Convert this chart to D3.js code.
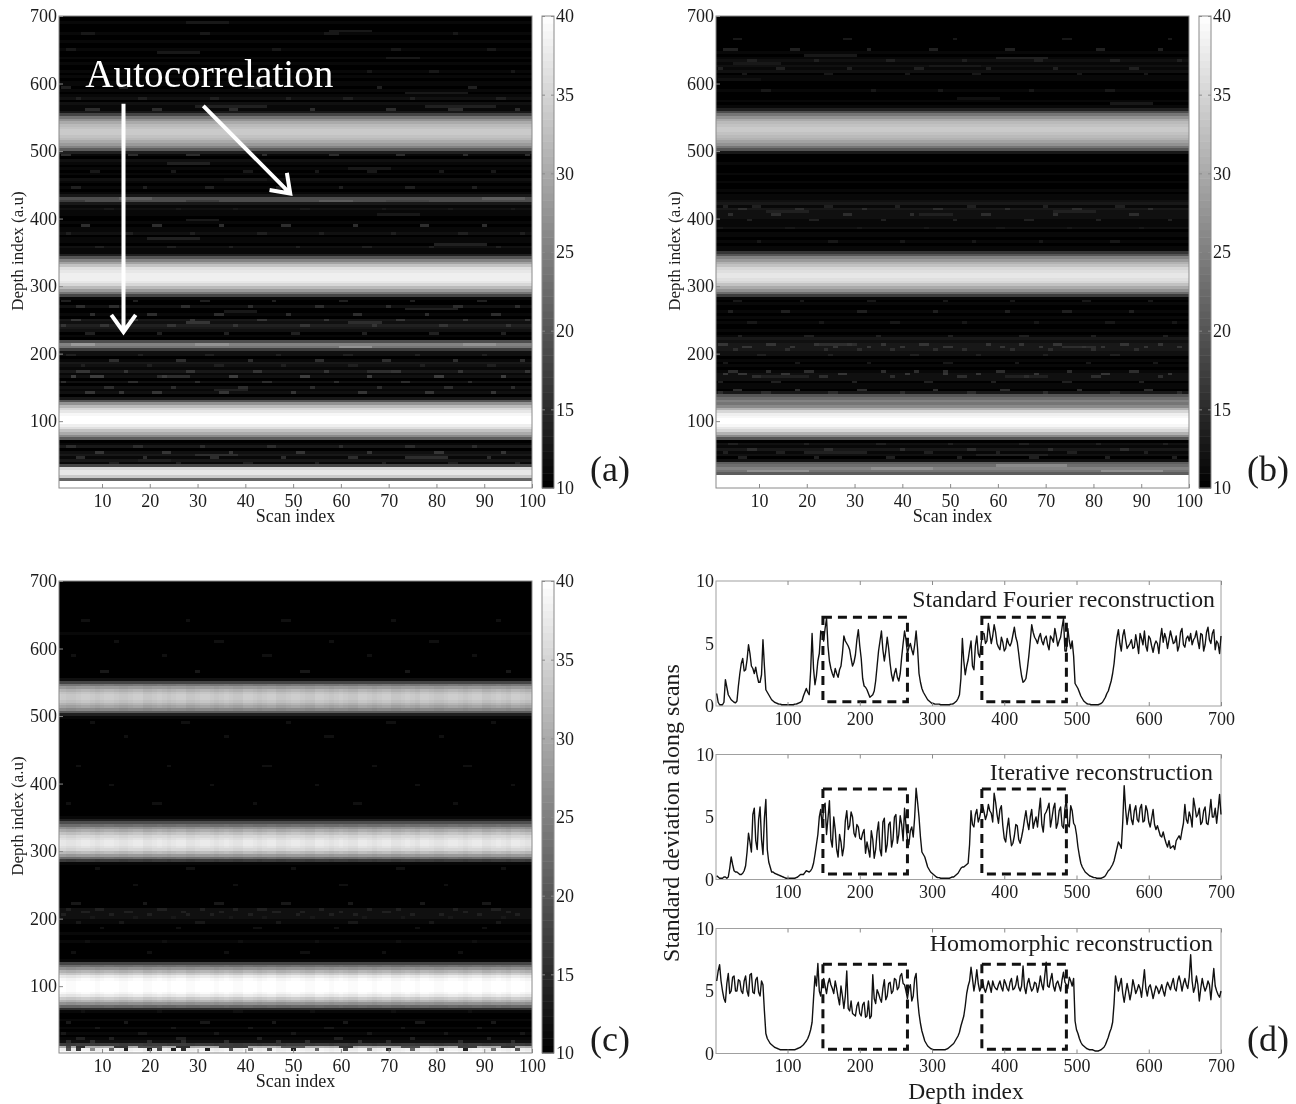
<!DOCTYPE html>
<html>
<head>
<meta charset="utf-8">
<script src="https://cdn.jsdelivr.net/npm/d3@7"></script>
<style>
	html, body { margin: 0; background: #fff; }
	svg { display: block; filter: blur(0.45px); }
	text { font-family: "Liberation Serif", serif; fill: #1c1c1c; }
	.axis path { display: none; }
	.axis line { stroke: #8a8a8a; }
	.axis text { font-size: 18px; font-family: "Liberation Serif", serif; fill: #1c1c1c; }
</style>
</head>
<body>
<svg width="1296" height="1104"></svg>
<script>
var scanTicks = [10, 20, 30, 40, 50, 60, 70, 80, 90, 100];
var depthTicks = [100, 200, 300, 400, 500, 600, 700];
var barTicks = [10, 15, 20, 25, 30, 35, 40];
var stdTicks = [0, 5, 10];

// depth rows, 4 units apart, starting at depth 2 (25 values a line)
var profileA = [
	40,40,40,22,34,37,37,35,18,11,13,11,13,12,10,13,11,10,21,26,30,33,36,38,40,
	40,40,39,37,35,32,27,20,13,10,12,11,12,10,12,10,12,11,13,11,12,13,11,10,12,
	12,17,24,25,19,10,11,10,12,13,14,12,13,10,11,10,10,12,10,10,11,18,24,28,32,
	35,37,38,38,38,37,36,33,29,25,20,14,11,11,12,10,11,11,10,12,11,11,10,11,10,
	10,11,11,12,11,13,19,19,13,11,10,11,10,11,12,10,11,10,11,10,11,12,10,11,14,
	21,25,28,30,32,33,34,34,33,32,30,27,24,18,13,11,11,12,10,12,11,10,11,10,11,
	11,10,11,10,11,10,10,11,10,11,10,10,11,10,10,11,10,10,11,10,10,10,11,10,10
];
var profileB = [
	40,40,40,40,40,21,24,25,23,21,12,10,12,11,13,11,12,10,20,26,31,35,37,39,40,
	40,39,38,35,31,26,24,25,23,20,13,10,11,11,10,12,12,12,11,10,11,10,11,10,12,
	12,13,13,13,12,13,11,10,11,10,10,11,10,11,10,11,10,10,11,10,11,17,23,27,30,
	33,35,36,37,37,36,35,33,31,28,25,20,16,11,11,10,11,10,11,11,10,12,11,11,11,
	12,12,12,13,11,13,12,11,11,10,11,10,10,11,10,10,11,10,10,10,11,10,10,10,13,
	20,24,27,29,31,32,33,34,34,33,32,30,27,24,19,14,11,10,11,10,10,10,11,10,10,
	10,11,11,10,12,11,12,11,12,11,10,11,10,10,10,10,10,10,10,10,10,10,10,10,10
];
var profileC = [
	39,38,30,17,12,11,10,11,10,11,10,10,11,10,10,11,15,22,27,31,34,37,39,40,40,
	40,40,39,37,34,31,27,23,18,11,10,10,10,10,10,10,11,10,10,11,10,10,10,11,11,
	12,12,12,12,10,10,10,10,10,10,10,10,10,10,10,10,10,10,10,10,11,17,23,28,32,
	35,36,37,37,36,35,33,30,27,23,19,14,11,10,10,10,10,10,10,10,10,10,10,10,10,
	10,10,10,10,10,10,10,10,10,10,10,10,10,10,10,10,10,10,10,10,10,10,10,10,11,
	14,21,26,29,31,33,34,34,33,31,28,24,18,12,10,10,10,10,10,10,10,10,10,10,10,
	10,10,10,10,10,11,10,10,10,10,10,10,10,10,10,10,10,10,10,10,10,10,10,10,10
];

var streaksA = [
	[28,36,688,13],[58,66,676,13],[22,30,645,13],[70,76,636,13],[74,86,584,13],[30,44,566,14],[78,92,566,14],
	[24,32,482,14],[62,70,474,13],[36,44,458,13],[28,34,396,13],[68,76,404,13],[20,30,370,14],[80,90,362,14],
	[36,42,262,13],[74,84,266,14],[28,32,246,16],[62,68,246,15],[22,28,166,15],[66,72,172,15],[34,40,146,14],
	[30,38,50,15],[74,82,46,15],[18,24,42,14],[1,6,426,17],[14,20,430,21],[28,34,426,17],[56,62,426,21],
	[70,78,426,18],[90,98,430,21],[4,8,214,28],[30,36,214,27],[60,66,210,27],[86,92,214,27]
];
var streaksB = [
	[20,30,640,13],[60,70,636,14],[5,14,628,13],[46,56,626,13],[2,10,606,12],[52,60,578,12],[84,92,570,13],
	[12,20,410,14],[44,50,406,14],[72,80,410,14],[23,30,214,15],[74,80,208,15],[10,20,164,14],[62,70,166,14],
	[20,32,52,14],[56,70,48,14],[8,20,26,27],[34,46,30,27],[60,74,34,26],[82,94,26,27]
];
var streaksC = [
	[3,3,6,20],[5,5,6,16],[8,8,6,26],[12,12,6,22],[15,15,6,14],[20,20,6,13],[22,22,6,18],[25,25,6,14],
	[27,27,6,15],[32,32,6,14],[37,37,6,20],[41,41,6,24],[45,45,6,20],[50,50,6,14],[55,55,6,22],[61,61,6,18],
	[66,66,6,24],[70,70,6,15],[75,75,6,22],[81,81,6,18],[86,86,6,14],[92,92,6,24],[97,97,6,20],
	[3,3,10,18],[5,6,10,15],[13,15,10,16],[18,22,10,19],[26,28,10,15],[35,40,10,17],[48,52,10,20],[60,62,10,16],
	[73,76,10,19],[85,88,10,17],[94,96,10,16]
];

// single bright cells: depth, level, scans
var speckleA = [
	[674,13,[6,7,8,31,32,57,58,59,84]], [650,13,[3,4,46,47,71,72,91,92]], [618,13,[9,10,27,52,53,66,79,80,96]],
	[594,14,[2,3,14,15,41,42,43,68,87,88]], [578,14,[5,18,19,33,34,49,61,62,75,93,94]],
	[562,15,[7,8,9,21,22,37,38,54,70,71,83,84,85,97]], [494,15,[2,3,16,17,28,29,30,44,58,59,72,73,86,99]],
	[470,13,[8,9,25,40,41,55,66,67,81,92]], [446,14,[4,5,19,32,33,47,60,74,75,88]], [414,13,[11,12,26,38,52,53,69,83,96]],
	[390,15,[6,7,21,22,35,48,49,63,77,78,90]], [378,14,[3,15,16,29,43,44,56,71,85,86,98]],
	[358,14,[9,10,24,25,37,51,65,66,79,93]], [278,14,[2,3,17,31,32,46,60,61,75,89,90]],
	[270,15,[5,6,12,13,27,28,41,55,56,70,84,85,97]], [258,15,[8,20,21,34,35,49,63,64,78,92,93]],
	[250,16,[4,5,16,17,29,43,44,57,72,73,86,99]], [242,16,[2,10,11,24,25,38,52,53,67,81,82,95]],
	[230,14,[7,8,22,36,50,51,65,79,80,94]], [198,14,[3,4,18,32,33,47,61,62,76,90]],
	[190,15,[12,13,26,27,41,55,56,69,70,84,98]], [182,14,[6,20,34,35,48,62,63,77,91,92]],
	[174,16,[5,6,7,15,28,29,42,43,57,71,72,85,99]], [166,17,[4,8,9,10,23,37,38,52,53,66,80,81,94]],
	[158,15,[2,16,17,30,44,45,59,73,74,87]], [150,15,[11,12,25,39,40,54,68,82,83,96]],
	[142,16,[7,8,14,21,22,35,36,50,64,65,78,79,92]], [62,15,[3,4,17,18,31,45,46,60,74,75,88]],
	[54,16,[9,10,23,24,37,51,52,66,80,81,94]], [46,15,[5,6,19,33,34,48,62,63,77,91]], [38,14,[12,13,26,40,41,55,69,83,84,97]]
];
var speckleB = [
	[664,13,[5,6,28,29,51,74,75,96]], [648,14,[3,4,5,17,18,33,46,47,62,63,81,82,94]],
	[632,14,[8,9,22,37,38,53,68,69,84,85,98]], [620,14,[2,14,15,29,43,44,58,72,88,89]],
	[612,13,[7,24,25,41,55,56,77,91]], [590,13,[11,12,34,48,67,83,84]],
	[418,14,[3,9,10,24,25,39,54,55,70,85,86]], [414,15,[6,7,18,19,32,47,48,62,76,77,92]],
	[406,15,[4,13,14,28,29,42,57,58,72,88,89]], [398,14,[8,21,22,36,51,66,67,81,96]],
	[386,13,[2,16,17,31,45,60,61,75,90]], [366,13,[10,25,26,40,55,69,84,85]],
	[278,13,[5,6,19,33,34,49,63,78,79,92]], [262,14,[4,15,16,31,32,47,62,74,75,88]],
	[246,13,[8,9,23,38,39,53,68,83,84,97]], [226,14,[6,20,21,35,50,65,66,80,95]],
	[214,16,[2,3,12,13,22,29,36,44,45,58,65,72,73,86,87,94]], [210,16,[7,8,17,26,33,40,49,50,61,69,78,82,91,98]],
	[206,15,[5,16,24,31,38,47,53,63,71,80,89]], [198,14,[10,11,25,42,43,56,70,84,85]], [186,13,[3,18,33,49,50,64,79,93]],
	[174,15,[4,5,12,20,21,36,43,49,60,61,75,88,89]], [170,16,[3,6,7,15,16,27,28,41,49,56,68,82,83,96]],
	[164,15,[9,10,23,24,38,52,53,66,80,81,94]], [158,14,[2,13,14,30,45,46,59,74,75,90]],
	[146,15,[5,6,18,31,32,47,61,62,77,91,92]], [142,15,[2,11,12,25,26,40,54,55,70,84,85,98]],
	[66,14,[4,5,20,35,36,50,65,66,81,95]], [58,15,[8,9,24,25,40,54,55,71,86,87]],
	[54,14,[3,14,15,30,45,46,60,75,76,91]], [46,14,[6,7,22,37,38,52,67,68,83,97]]
];
var speckleC = [
	[642,12,[6,7,28,48,49,71,93]], [610,12,[13,34,35,58,79,80]], [590,12,[4,23,44,45,66,88]], [566,13,[10,11,30,52,53,74,95]],
	[490,12,[8,27,28,49,70,71,92]], [470,12,[15,36,57,58,81]], [426,12,[5,24,44,45,67,86,87]], [396,12,[12,33,55,76,96]],
	[370,12,[3,21,22,42,63,64,84]], [274,12,[9,28,29,50,72,73,94]], [250,12,[17,38,60,61,82]],
	[222,13,[4,5,19,34,35,48,49,62,77,90,91]], [214,14,[3,9,10,22,23,31,38,43,44,56,66,72,84,92,93]],
	[210,14,[6,7,15,16,27,35,46,47,52,60,69,70,86,95]], [206,14,[2,12,20,28,33,41,51,58,63,75,81,89,97]],
	[202,13,[8,17,25,37,44,54,65,73,83,94]], [194,13,[5,14,30,31,47,62,63,79,93]], [186,12,[10,26,42,43,59,76,90]],
	[166,12,[7,23,39,55,72,88]], [150,12,[4,20,36,52,53,69,85]], [62,12,[6,22,38,39,54,71,87]],
	[46,13,[3,15,31,32,46,61,76,77,92]], [38,13,[9,25,41,57,58,73,89]], [30,13,[2,18,19,34,50,66,82,98]],
	[22,14,[5,6,12,26,27,43,59,60,75,91]], [18,15,[3,8,20,27,36,47,53,64,70,85,96]]
];

// soft vertical stripes that panel (c) shows across its bands
var rippleC = [
	1,0,-1,-1,0,1,1,0,-1,0,1,1,0,-1,-1,0,1,1,-1,-1,
	0,1,0,-1,0,1,1,-1,-1,0,1,1,0,-1,0,1,0,-1,-1,1,
	1,0,-1,0,1,1,-1,-1,0,1,1,0,-1,-1,1,1,0,-1,0,1,
	0,-1,-1,1,1,0,-1,0,1,1,-1,-1,0,1,0,-1,1,1,0,-1,
	-1,0,1,1,0,-1,0,1,1,-1,-1,0,1,0,-1,1,1,0,-1,0
];

// std dev along scans at depths 2, 6, 10 ... and at the depths between (4, 8, 12 ...)
var stdFourier = [
	1,.1,.1,2.1,.9,.5,.3,.4,2.6,3.8,2.9,4.9,3.2,2.6,2.4,1.9,5.3,1.3,.9,.5,.3,.2,.15,.1,.1,
	.1,.1,.15,.2,.3,.8,1.4,.9,5.8,1.7,3.6,6,5.2,7,3.6,2.6,3,2.3,3.2,5.6,5,4.5,3.2,4.1,6.1,
	3.8,1.6,1.3,.7,.9,2,4.4,6,3.6,5.5,3.4,2,3,2,3.9,6,4.2,5,4.1,6,2.6,1.4,.9,.5,.3,
	.2,.15,.15,.1,.1,.1,.15,.2,.4,.9,5.4,2.5,3.7,5.2,2.9,5.6,3.9,5.8,5,6.6,5,6.5,5,4.5,5.1,
	4.6,5,5.1,6.3,5.1,3.2,1.9,2.2,4,6.5,5.5,5,5.8,4.9,5.6,4.5,5.4,6.2,4.8,5.5,7,4.4,5.2,5.2,1.8,
	1.4,.8,.4,.2,.15,.1,.1,.1,.2,.5,1,1.6,2.6,4.6,6.1,4.4,6.1,4.6,5,4.6,5.7,4.2,5.4,6,4.4,
	5.4,4.3,5.2,4.2,6.2,5.8,4.6,6,5,5.6,4.8,6.2,4.7,5.6,5.8,5.3,6,4.6,5.7,4.9,6.3,5,6.1,5.2,4.2
];
var stdFourierMid = [
	.3,.1,.3,1.5,.7,.4,.25,1.6,3.4,2.8,3.7,4.2,3,3.1,1.9,2.5,3.2,1.1,.7,.4,.25,.15,.1,.1,.1,
	.1,.1,.15,.25,.4,1.1,1.1,2.8,3,2.4,4.2,5.8,6.2,4.8,3,2.3,2.6,2.9,4.2,5.2,4.8,3.8,3.5,5.3,4.8,
	2.2,1.5,1,.8,1.2,3.2,5.2,4.5,4.4,4.6,2.5,2.6,2.3,2.6,5,5.3,4.7,4.5,4.9,4.6,1.9,1.1,.7,.4,.2,
	.15,.15,.1,.1,.1,.1,.15,.3,.6,2.2,3.6,3.2,4.5,3.2,4.8,4.2,5,5.8,5.2,5.8,5.6,5.9,4.7,5.5,4.4,
	5.4,4.8,5.7,5.5,4.2,2.4,2,3,5.2,5.9,5.3,5.5,5.2,5.4,4.9,5.6,5.1,5.6,5.2,6.3,4.4,6.2,4.6,4,1.6,
	1.1,.6,.3,.15,.1,.1,.1,.15,.3,.7,1.2,2,3.4,5.5,5,5.6,5.3,4.8,5.3,4.7,5,5.8,4.9,4.8,5.6,
	4.8,4.9,5,5.4,5.1,5.4,5.3,5.5,5.1,4.4,5.9,4.9,5.4,5.2,4.9,5.5,5.2,5.8,4.4,5.9,5.3,5.8,4.5,5,5.6
];
var stdIterative = [
	.3,.1,.1,.2,.2,1.8,.7,.6,.4,.5,1.1,3.7,2.2,5.7,2.4,5.8,2,6.4,1.4,.6,.5,.4,.3,.2,.1,
	.1,.1,.1,.2,.4,.4,.7,.6,.9,2,3.6,5.6,5.8,3.6,6.3,2.6,4,1.8,3,2.6,5.5,4.3,5,3.4,4.2,
	3.2,4,3,1.8,3.2,2.4,4.6,1.9,4.9,2.8,4.6,3.2,5.2,3.6,4.4,5.7,3.2,3.9,3.4,7.3,5,2.2,1.8,1,.6,
	.4,.2,.15,.1,.1,.1,.15,.2,.4,.7,1,1.1,1.3,5.5,4.2,5.6,5,5.9,4.8,6,5.3,6.9,5.2,5.6,4.3,
	3,4.9,2.7,3.5,4.3,2.9,4,5.5,4,5.6,4.6,4.2,6.5,3.8,5.4,6.1,4.9,6.1,4.5,5.8,4.1,6.4,4.2,5.5,4.3,
	2.6,1.3,.8,.5,.3,.2,.15,.1,.1,.2,.5,.8,1.2,2,3,2.5,7.5,4.4,6,4.4,5.9,4.6,6,4.7,5.5,
	4.2,5.6,4,3.9,3.4,3.3,2.6,2.5,2.7,3.1,3.5,3.9,6,4.5,5,6.5,5,5.7,4.6,5.8,4.4,6.4,5,4.5,6.8
];
var stdIterativeMid = [
	.2,.1,.2,.1,.9,1.2,.6,.5,.4,.7,2.2,3,5.2,3.1,4.8,3.2,4.9,2.4,1,.6,.45,.35,.25,.15,.1,
	.1,.1,.15,.3,.4,.55,.65,.7,1.3,2.8,5,4.2,6.1,4.9,3.2,5,2.4,3.6,1.9,4.7,4,5.4,3.7,4.4,3.3,
	3.7,2.1,2.4,3.9,1.7,3.8,2.4,4.6,2.2,4.4,2.6,5,2.9,5.1,3.1,4.3,2.8,4.2,5,6.2,3.4,2,1.4,.8,.5,
	.3,.15,.1,.1,.1,.1,.2,.3,.5,.9,1,1.2,2.8,4.4,5.2,4.6,5.6,5.4,5.2,5.5,4.6,6.2,4.5,5.9,3.3,
	4.1,3.6,2.9,4.4,3.2,3.4,4.8,4.6,5,4.1,5,5.4,4.4,5.2,5.7,4.2,5.7,4.1,5.5,4.3,5.7,4.4,5.9,4.5,3.6,
	1.9,1,.6,.4,.25,.15,.1,.1,.15,.3,.7,1,1.5,2.5,2.8,4.6,5.6,5.3,4.8,5.5,4.8,5.7,4.6,5.9,4.6,
	4.9,4.4,4.3,3.5,3.8,2.9,3.1,2.6,2.4,3.3,3.2,4.5,4.8,5.4,4.2,5.8,5.2,4.4,5.5,4.5,5.3,5,5.7,5.6,5.2
];
var stdHomomorphic = [
	5.8,7.1,5,4.1,6.4,5,6.2,5,5.8,4.8,6.2,4.6,6.4,4.8,6.1,4.6,5.5,1.6,1,.7,.5,.4,.3,.3,.3,
	.3,.3,.3,.4,.5,.7,1,1.5,2.5,6.2,7.2,4.6,6,4.8,6,5.2,5.8,4.5,5.4,3.6,6.6,3.4,3.2,3,4.1,
	3,4.1,3,2.8,6.3,4,4.8,4.1,5.9,4.6,5.7,5,5.9,5.3,6.4,5.5,4.4,5.5,4.6,6.4,3.2,1.8,1,.6,.4,
	.3,.3,.3,.3,.3,.4,.6,.8,1.2,1.7,2.6,3.8,5.4,6.9,5,6.7,5,5.9,4.9,5.8,4.9,5.4,5.1,5.8,5,
	5.6,5,6,5.2,6.2,5,7,4.8,6,5,5.7,4.9,6.2,5.1,7.3,5.3,6.4,5,5.8,5,6.5,5.5,6.1,5.4,2.6,
	1.6,.9,.6,.4,.3,.3,.2,.2,.3,.5,1,1.7,2.5,6.2,5,6,4.1,5.6,4.3,5.9,4.8,5.5,4.5,6.7,4.6,
	5.5,4.4,5.4,4.8,5.5,4.6,5.7,5.1,6,5,6.2,5,6,5.2,7.9,4.9,6.2,4.2,6,5,5.8,4.3,6.8,5,4.5
];
var stdHomomorphicMid = [
	6.6,5.8,4.4,5.6,4.8,6.1,5,5.9,5,5.8,5,6.3,4.9,5.9,4.9,5.8,3.4,1.2,.8,.6,.45,.35,.3,.3,.3,
	.3,.3,.35,.45,.6,.85,1.2,1.9,4.4,5.4,5,5.8,5.4,5.6,5.5,4.8,5.2,3.9,4.6,4.6,3.6,4.2,3.1,3.8,3.2,
	3.9,2.9,4.2,3,4.4,5.1,4.4,5.2,4.3,5.6,4.8,6,5.1,6.2,5.6,5,5.2,4.2,6,4.4,2.4,1.4,.8,.5,.35,
	.3,.3,.3,.3,.35,.5,.7,1,1.4,2.2,3,4.8,5.8,6,5.7,5.6,5.3,5.2,5.3,5.4,5.8,5.2,5.5,5.3,5.9,
	5.2,5.7,5.1,5.5,5.3,5.4,5.3,5.6,5.4,5.2,5.6,5.4,5.5,6.2,5.4,5.9,5.4,5.6,5.4,5.9,5.7,5.2,5.8,6,1.9,
	1.2,.7,.5,.35,.3,.25,.2,.25,.4,.7,1.3,2,4,5.6,5.5,4.8,4.9,5,4.9,5.4,5.1,5.2,5.6,5.2,5.3,
	5,4.9,5.2,5.1,5,5.3,5.4,5.6,5.2,5.8,5.7,5.6,5.5,6.1,5.8,5.3,5.5,5.2,5.4,5.3,5.5,5.6,5.4,4.7,5
];
var stdDepths = d3.range(2, 702, 2);

// dashed boxes of panel (d): depth ranges, then value ranges per subplot
var boxDepths = [[149, 266], [369, 486]];
var boxValues = [[0.35, 7.1], [0.45, 7.25], [0.35, 7.15]];

// white arrows on panel (a), scan and depth at both ends
var arrows = [[14.5, 570, 14.5, 232], [31.2, 567, 49.4, 437]];

var svg = d3.select("svg");
var grey = d3.scaleLinear().domain([10, 40]).range([0, 255]).clamp(true);

var level = function(v) {
	var g = Math.round(Math.round((v - 10) / 30 * 63) / 63 * 255);
	g = Math.max(0, Math.min(255, g));
	return "rgb(" + g + "," + g + "," + g + ")";
};

var buildCells = function(profile, streaks, speckle, ripple) {
	var rows = profile.map(function(v) {
		return d3.range(1, 101).map(function(s) {
			if (ripple && v > 15) return v + ripple[s - 1] * (v - 12) / 50;
			return v;
		});
	});
	streaks.forEach(function(st) {
		var r = Math.round((st[2] - 2) / 4);
		for (var s = st[0]; s <= st[1]; s++) rows[r][s - 1] = st[3];
	});
	speckle.forEach(function(sp) {
		var r = Math.round((sp[0] - 2) / 4);
		sp[2].forEach(function(s) { rows[r][s - 1] = sp[1]; });
	});
	// merge runs of equal colour in a row
	var runs = [];
	rows.forEach(function(row, r) {
		var start = 0;
		for (var i = 1; i <= 100; i++) {
			if (i == 100 || level(row[i]) != level(row[start])) {
				runs.push({depth: 2 + r * 4, from: start + 1, to: i, color: level(row[start])});
				start = i;
			}
		}
	});
	return runs;
};

var drawHeat = function(left, top, profile, streaks, speckle, ripple, label, labelX, labelY) {
	var w = 473, h = 472;
	var x = d3.scaleLinear().domain([1, 100]).range([0, w]);
	var y = d3.scaleLinear().domain([1, 700]).range([h, 0]);
	var g = svg.append("g").attr("transform", "translate(" + left + "," + top + ")");

	g.selectAll(".cell")
		.data(buildCells(profile, streaks, speckle, ripple))
		.enter()
		.append("rect")
		.attr("class", "cell")
		.attr("x", function(d) { return Math.max(0, x(d.from - 0.5)); })
		.attr("width", function(d) { return Math.min(w, x(d.to + 0.5)) - Math.max(0, x(d.from - 0.5)); })
		.attr("y", function(d) { return Math.max(0, y(d.depth + 2)); })
		.attr("height", function(d) { return Math.min(h, y(d.depth - 2)) - Math.max(0, y(d.depth + 2)); })
		.attr("fill", function(d) { return d.color; })
		.attr("shape-rendering", "crispEdges");

	g.append("rect").attr("width", w).attr("height", h)
		.attr("fill", "none").attr("stroke", "#8a8a8a");

	g.append("g").attr("class", "axis").attr("transform", "translate(0," + h + ")")
		.call(d3.axisBottom(x).tickValues(scanTicks).tickSize(-4).tickPadding(6));
	g.append("g").attr("class", "axis")
		.call(d3.axisLeft(y).tickValues(depthTicks).tickSize(-4).tickPadding(2));

	g.append("text").attr("x", w / 2).attr("y", h + 34)
		.attr("text-anchor", "middle").attr("font-size", 18).text("Scan index");
	g.append("text").attr("transform", "translate(-36," + (h / 2 - 1) + ") rotate(-90)")
		.attr("text-anchor", "middle").attr("font-size", 17).text("Depth index (a.u)");

	// colour bar
	var bar = g.append("g").attr("transform", "translate(" + (w + 10) + ",0)");
	var by = d3.scaleLinear().domain([10, 40]).range([h, 0]);
	var levels = d3.range(64).map(function(i) { return 10 + i * 30 / 64; });
	bar.selectAll("rect")
		.data(levels)
		.enter()
		.append("rect")
		.attr("width", 12)
		.attr("y", function(d) { return by(d + 30 / 64); })
		.attr("height", by(10) - by(10 + 30 / 64) + 0.5)
		.attr("fill", function(d) { return "rgb(" + Math.round(grey(d + 15 / 64)) + "," + Math.round(grey(d + 15 / 64)) + "," + Math.round(grey(d + 15 / 64)) + ")"; });
	bar.append("rect").attr("width", 12).attr("height", h)
		.attr("fill", "none").attr("stroke", "#8a8a8a");
	bar.append("g").attr("class", "axis").attr("transform", "translate(12,0)")
		.call(d3.axisRight(by).tickValues(barTicks).tickSize(-3).tickPadding(2));
	bar.append("g").attr("class", "axis")
		.call(d3.axisLeft(by).tickValues(barTicks).tickSize(-3).tickFormat(""));

	svg.append("text").attr("x", labelX).attr("y", labelY).attr("font-size", 36).text(label);
	return {x: x, y: y, g: g};
};

var drawStd = function(top, values, mids, box, title, titleY, titleRight, titleSize) {
	var w = 505, h = 125;
	var x = d3.scaleLinear().domain([1, 700]).range([0, w]);
	var y = d3.scaleLinear().domain([0, 10]).range([h, 0]);
	var g = svg.append("g").attr("transform", "translate(716," + top + ")");
	var woven = d3.merge(values.map(function(v, i) { return [v, mids[i]]; }));
	var line = d3.line()
		.x(function(d, i) { return x(stdDepths[i]); })
		.y(function(d) { return y(d); });

	g.append("rect").attr("width", w).attr("height", h)
		.attr("fill", "none").attr("stroke", "#a0a0a0");
	g.append("path").datum(woven).attr("d", line)
		.attr("fill", "none").attr("stroke", "#111").attr("stroke-width", 1.4).attr("stroke-linejoin", "round");

	g.selectAll(".box")
		.data(boxDepths)
		.enter()
		.append("rect")
		.attr("class", "box")
		.attr("x", function(d) { return x(d[0]); })
		.attr("width", function(d) { return x(d[1]) - x(d[0]); })
		.attr("y", y(box[1]))
		.attr("height", y(box[0]) - y(box[1]))
		.attr("fill", "none").attr("stroke", "#111").attr("stroke-width", 3)
		.attr("stroke-dasharray", "9,6");

	g.append("g").attr("class", "axis").attr("transform", "translate(0," + h + ")")
		.call(d3.axisBottom(x).tickValues(depthTicks).tickSize(-4).tickPadding(6));
	g.append("g").attr("class", "axis")
		.call(d3.axisTop(x).tickValues(depthTicks).tickSize(-4).tickFormat(""));
	g.append("g").attr("class", "axis")
		.call(d3.axisLeft(y).tickValues(stdTicks).tickSize(0).tickPadding(2));

	g.append("text").attr("x", titleRight).attr("y", titleY)
		.attr("text-anchor", "end").attr("font-size", titleSize).text(title);
};

var panelA = drawHeat(59, 16, profileA, streaksA, speckleA, null, "(a)", 590, 481);
drawHeat(716, 16, profileB, streaksB, speckleB, null, "(b)", 1247, 481);
drawHeat(59, 581, profileC, streaksC, speckleC, rippleC, "(c)", 590, 1051);

drawStd(581, stdFourier, stdFourierMid, boxValues[0], "Standard Fourier reconstruction", 26, 499, 23.8);
drawStd(754.5, stdIterative, stdIterativeMid, boxValues[1], "Iterative reconstruction", 25, 497, 24);
drawStd(928.5, stdHomomorphic, stdHomomorphicMid, boxValues[2], "Homomorphic reconstruction", 22, 497, 24);

svg.append("text").attr("x", 1247).attr("y", 1051).attr("font-size", 36).text("(d)");
svg.append("text").attr("transform", "translate(679,813) rotate(-90)")
	.attr("text-anchor", "middle").attr("font-size", 24).text("Standard deviation along scans");
svg.append("text").attr("x", 966).attr("y", 1099)
	.attr("text-anchor", "middle").attr("font-size", 23.5).text("Depth index");

// annotation on panel (a)
panelA.g.append("text").attr("x", panelA.x(6.5)).attr("y", 71)
	.attr("font-size", 39.2).style("fill", "#fff").text("Autocorrelation");
arrows.forEach(function(a) {
	var x1 = panelA.x(a[0]), y1 = panelA.y(a[1]), x2 = panelA.x(a[2]), y2 = panelA.y(a[3]);
	var ang = Math.atan2(y2 - y1, x2 - x1), head = 21;
	var tip = function(off) {
		return [x2 - head * Math.cos(ang + off), y2 - head * Math.sin(ang + off)];
	};
	panelA.g.append("path")
		.attr("d", d3.line()([[x1, y1], [x2, y2]]) + "M" + tip(0.62) + "L" + [x2, y2] + "L" + tip(-0.62))
		.attr("fill", "none").attr("stroke", "#fff").attr("stroke-width", 4);
});
</script>
</body>
</html>
